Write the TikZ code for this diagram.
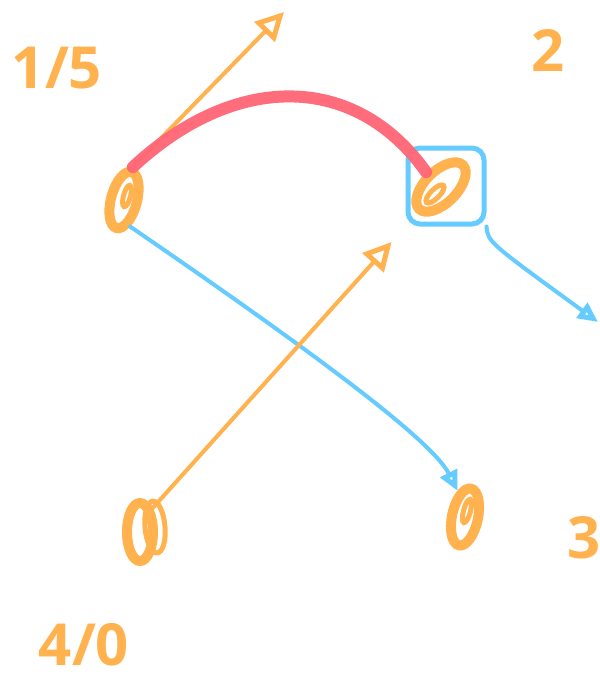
\documentclass[tikz,border=0pt]{standalone}
\usepackage{fontspec}
\setmainfont{Open Sans}
\usetikzlibrary{arrows.meta,shapes.geometric}
\definecolor{sorange}{HTML}{FFB24D}
\definecolor{sblue}{HTML}{66CCFF}
\definecolor{sred}{HTML}{FF6677}
\begin{document}
\begin{tikzpicture}[x=1pt,y=-1pt,
  vert/.style={ellipse, draw=sorange, line width=10pt, inner sep=0pt},
  loop/.style={ellipse, draw=sorange, line width=5pt, inner sep=0pt},
  lab/.style={text=sorange, font=\fontsize{58}{58}\selectfont\bfseries, inner sep=0pt},
  oarrow/.style={draw=sorange, line width=4pt, line cap=round,
    -{Triangle[open, length=28pt, width=28pt, line width=5pt]}},
  barrow/.style={draw=sblue, line width=4pt, line cap=round,
    -{Triangle[open, length=20pt, width=18pt, line width=5pt]}},
  redge/.style={draw=sred, line width=12pt, line cap=round, opacity=0.95},
]
\useasboundingbox (0,0) rectangle (600,689);
\fill[white] (0,0) rectangle (600,689);

% vertices
\node[vert, rotate=-15, minimum width=26pt, minimum height=58pt] (A) at (124,200) {};
\node[loop, minimum width=7pt, minimum height=22pt, rotate=-15] (Ai) at (127,196) {};
\node[vert, rotate=-45, minimum width=32pt, minimum height=62pt] (B) at (441,187) {};
\node[loop, minimum width=9pt, minimum height=24pt, rotate=-45] (Bi) at (435,194) {};
\node[draw=sblue, line width=5pt, rounded corners=12pt, minimum width=76pt, minimum height=76pt, inner sep=0pt] (Bbox) at (446,186) {};
\node[vert, minimum width=26pt, minimum height=58pt] (C) at (140,532) {};
\node[loop, minimum width=20pt, minimum height=52pt, rotate=5] (Ci) at (155,527) {};
\node[vert, rotate=-12, minimum width=26pt, minimum height=58pt] (D) at (465,517) {};
\node[loop, minimum width=7pt, minimum height=24pt, rotate=-15] (Di) at (467,511) {};

% labels
\node[lab] (l15) at (57,68) {1/5};
\node[lab] (l2) at (548,50) {2};
\node[lab] (l3) at (584,538) {3};
\node[lab] (l40) at (84,645) {4/0};

\coordinate (t1) at (284,12);
\coordinate (t3) at (598,322);

% connectors
\draw[oarrow] (A.north) -- (t1);
\draw[redge] (A.north) .. controls (235,72) and (355,72) .. (B.west);
\draw[barrow] (A.south east) .. controls (310,350) and (432,440) .. (D.north west);
\draw[oarrow, shorten >=38pt] (C.north east) -- (B);
\draw[barrow] (Bbox.south east) .. controls (488,242) .. (t3);
\end{tikzpicture}
\end{document}
